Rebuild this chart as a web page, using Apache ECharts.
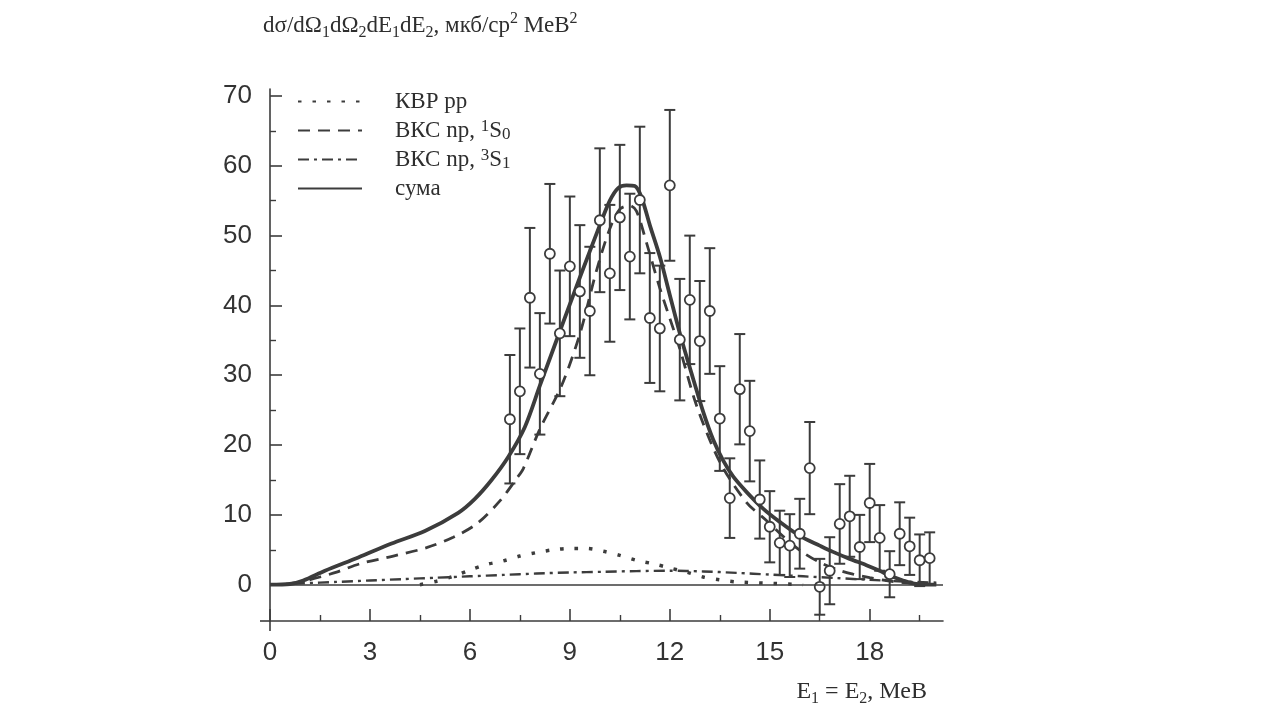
<!DOCTYPE html>
<html>
<head>
<meta charset="utf-8">
<script src="https://cdn.jsdelivr.net/npm/echarts@6/dist/echarts.min.js"></script>
<style>
  html, body { margin: 0; padding: 0; background: #fff; }
  #chart { width: 1284px; height: 714px; }
</style>
</head>
<body>
<div id="chart"></div>
<script>
// експериментальні точки: енергія, переріз, похибка
const energies = [7.2, 7.5, 7.8, 8.1, 8.4, 8.7, 9.0, 9.3, 9.6, 9.9, 10.2, 10.5, 10.8, 11.1, 11.4, 11.7, 12.0, 12.3, 12.6, 12.9, 13.2, 13.5, 13.8, 14.1, 14.4, 14.7, 15.0, 15.3, 15.6, 15.9, 16.2, 16.5, 16.8, 17.1, 17.4, 17.7, 18.0, 18.3, 18.6, 18.9, 19.2, 19.5, 19.8]
const crossSection = [23.7, 27.7, 41.1, 30.2, 47.4, 36.0, 45.6, 42.0, 39.2, 52.2, 44.6, 52.6, 47.0, 55.1, 38.2, 36.7, 57.2, 35.1, 40.8, 34.9, 39.2, 23.8, 12.4, 28.0, 22.0, 12.2, 8.3, 6.0, 5.6, 7.3, 16.7, -0.3, 2.0, 8.7, 9.8, 5.4, 11.7, 6.7, 1.5, 7.3, 5.5, 3.5, 3.8]
const errors = [9.2, 9.0, 10.0, 8.7, 10.0, 9.0, 10.0, 9.5, 9.2, 10.3, 9.8, 10.4, 9.0, 10.5, 9.3, 9.0, 10.8, 8.7, 9.2, 8.6, 9.0, 7.5, 5.7, 7.9, 7.2, 5.6, 5.1, 4.6, 4.5, 5.0, 6.6, 4.0, 4.8, 5.7, 5.8, 4.6, 5.6, 4.7, 3.3, 4.5, 4.1, 3.7, 3.7]

// КВР pp
const kvrE = [4.5, 5.0, 5.5, 6.0, 6.5, 7.0, 7.5, 8.0, 8.5, 9.0, 9.5, 10.0, 10.5, 11.0, 11.5, 12.0, 12.5, 13.0, 13.5, 14.0, 15.0, 16.0]
const kvrY = [0.0, 0.5, 1.2, 2.1, 2.9, 3.4, 4.1, 4.6, 5.0, 5.2, 5.2, 4.8, 4.2, 3.5, 3.0, 2.4, 1.8, 1.1, 0.7, 0.4, 0.2, 0.0]

// ВКС np, 1S0
const s0E = [0, 0.5, 1.0, 1.5, 2.0, 2.7, 3.7, 4.7, 5.5, 6.2, 6.9, 7.4, 7.6, 8.1, 8.75, 9.3, 9.8, 10.2, 10.5, 10.8, 11.0, 11.3, 11.7, 12.3, 12.8, 13.5, 14.3, 14.9, 15.5, 16.0, 16.5, 17.0, 17.5, 18.0, 18.5, 19.0, 20.0]
const s0Y = [0, 0.1, 0.5, 1.1, 1.8, 3.0, 4.1, 5.3, 6.8, 8.7, 12.0, 15.2, 16.6, 22.3, 28.5, 35.9, 45.0, 51.0, 53.8, 54.3, 53.5, 49.0, 42.5, 33.8, 25.7, 17.6, 11.8, 9.2, 6.5, 4.6, 3.2, 2.2, 1.5, 1.0, 0.6, 0.3, 0]

// ВКС np, 3S1
const s1E = [0, 1, 2, 3, 4, 5, 6, 7, 8, 9, 10, 11, 12, 13, 14, 15, 16, 17, 18, 19, 20]
const s1Y = [0, 0.2, 0.4, 0.6, 0.8, 1.0, 1.2, 1.4, 1.6, 1.75, 1.85, 1.95, 2.0, 1.9, 1.7, 1.45, 1.2, 0.95, 0.7, 0.45, 0.3]

// сума
const sumE = [0, 0.6, 1.0, 1.65, 2.65, 3.65, 4.65, 5.65, 6.15, 6.65, 7.15, 7.65, 8.1, 8.7, 9.3, 9.9, 10.2, 10.45, 10.7, 10.95, 11.15, 11.4, 11.7, 12.0, 12.33, 12.7, 13.0, 13.3, 13.6, 13.9, 14.3, 14.8, 15.3, 15.9, 16.5, 16.9, 17.4, 17.9, 18.3, 18.6, 19.0, 19.4, 20.0]
const sumY = [0, 0.1, 0.6, 2.0, 3.9, 5.9, 7.7, 10.3, 12.3, 15.0, 18.3, 22.6, 28.5, 36.3, 44.0, 51.5, 55.0, 56.8, 57.2, 57.1, 55.5, 51.5, 47.0, 41.5, 35.5, 29.5, 24.8, 20.8, 17.8, 15.5, 13.3, 10.9, 9.0, 7.0, 5.6, 4.7, 3.7, 2.8, 2.0, 1.3, 0.6, 0.1, 0]

// підписи осей
const xTickLabels = [0, 3, 6, 9, 12, 15, 18]
const xMinorTicks = [1.5, 4.5, 7.5, 10.5, 13.5, 16.5, 19.5]
const yTickLabels = [0, 10, 20, 30, 40, 50, 60, 70]
const yMinorTicks = [5, 15, 25, 35, 45, 55, 65]

const names = ['КВР рр', 'ВКС np, 1S0', 'ВКС np, 3S1', 'сума']
const legendText = {
  'КВР рр': 'КВР рр',
  'ВКС np, 1S0': 'ВКС np, {p|1}S{b|0}',
  'ВКС np, 3S1': 'ВКС np, {p|3}S{b|1}',
  'сума': 'сума'
}

const ink = '#3c3c3c'
const textInk = '#2e2e2e'
const serif = '"Liberation Serif", "Times New Roman", serif'
const sans = '"Liberation Sans", Arial, sans-serif'
const subSup = (size) => ({
  p: { fontSize: size, lineHeight: 13, verticalAlign: 'top', fontFamily: serif, fontWeight: 'normal', color: textInk },
  b: { fontSize: size, lineHeight: 13, verticalAlign: 'bottom', fontFamily: serif, fontWeight: 'normal', color: textInk }
})
const mainText = (size) => ({ fontSize: size, lineHeight: 30, fontFamily: serif, fontWeight: 'normal', color: textInk })

const zip = (xs, ys) => xs.map((x, i) => [x, ys[i]])

const chart = echarts.init(document.getElementById('chart'))

const minorAxis = (extra) => Object.assign({
  type: 'value',
  axisLine: { show: false, onZero: false },
  axisLabel: { show: false },
  splitLine: { show: false }
}, extra)

const options = {
  backgroundColor: '#fff',
  animation: false,
  title: [
    {
      text: '{t|dσ/dΩ}{b|1}{t|dΩ}{b|2}{t|dE}{b|1}{t|dE}{b|2}{t|, мкб/ср}{p|2}{t| МеВ}{p|2}',
      left: 258,
      top: 6,
      textStyle: { fontWeight: 'normal', rich: Object.assign({ t: mainText(23) }, subSup(16)) }
    },
    {
      text: '{t|E}{b|1}{t| = E}{b|2}{t|, МеВ}',
      right: 352,
      top: 672,
      textStyle: { fontWeight: 'normal', rich: Object.assign({ t: mainText(24) }, subSup(16)) }
    }
  ],
  legend: {
    data: names,
    orient: 'vertical',
    left: 292,
    top: 84,
    itemWidth: 64,
    itemHeight: 14,
    itemGap: 4,
    itemStyle: { opacity: 0 },
    formatter: (name) => legendText[name],
    textStyle: {
      fontFamily: serif,
      fontSize: 23,
      lineHeight: 25,
      color: textInk,
      padding: [0, 0, 0, 28],
      rich: subSup(17)
    }
  },
  grid: {
    left: 270,
    top: 89,
    width: 673,
    height: 532
  },
  xAxis: [
    {
      type: 'value',
      min: 0,
      max: 20.2,
      position: 'bottom',
      axisLine: { onZero: false, lineStyle: { color: ink, width: 1.6 } },
      axisTick: { inside: true, length: 12, customValues: xTickLabels, lineStyle: { color: ink, width: 1.6 } },
      axisLabel: { customValues: xTickLabels, margin: 19, fontSize: 26, fontFamily: sans, color: '#333' },
      splitLine: { show: false }
    },
    minorAxis({
      min: 0,
      max: 20.2,
      position: 'bottom',
      axisTick: { inside: true, length: 6, customValues: xMinorTicks, lineStyle: { color: ink, width: 1.4 } }
    })
  ],
  yAxis: [
    {
      type: 'value',
      min: -5.2,
      max: 71,
      position: 'left',
      axisLine: { show: true, onZero: false, lineStyle: { color: ink, width: 1.6 } },
      axisTick: { inside: true, length: 12, customValues: yTickLabels, lineStyle: { color: ink, width: 1.6 } },
      axisLabel: { customValues: yTickLabels, margin: 18, fontSize: 26, fontFamily: sans, color: '#333' },
      splitLine: { show: false }
    },
    minorAxis({
      min: -5.2,
      max: 71,
      position: 'left',
      axisTick: { inside: true, length: 6, customValues: yMinorTicks, lineStyle: { color: ink, width: 1.4 } }
    })
  ],
  series: [
    {
      name: 'КВР рр',
      type: 'line',
      data: zip(kvrE, kvrY),
      smooth: 0.3,
      symbol: 'none',
      lineStyle: { color: ink, width: 3.5, type: [3.5, 11], cap: 'butt' },
      z: 2
    },
    {
      name: 'ВКС np, 1S0',
      type: 'line',
      data: zip(s0E, s0Y),
      smooth: 0.3,
      symbol: 'none',
      lineStyle: { color: ink, width: 2.8, type: [12, 8] },
      z: 2
    },
    {
      name: 'ВКС np, 3S1',
      type: 'line',
      data: zip(s1E, s1Y),
      smooth: 0.3,
      symbol: 'none',
      lineStyle: { color: ink, width: 2.4, type: [11, 5, 3, 5] },
      z: 2
    },
    {
      name: 'сума',
      type: 'line',
      data: zip(sumE, sumY),
      smooth: 0.3,
      symbol: 'none',
      lineStyle: { color: ink, width: 3.8 },
      markLine: {
        silent: true,
        symbol: 'none',
        label: { show: false },
        lineStyle: { color: ink, width: 1.5, type: 'solid' },
        data: [{ yAxis: 0 }]
      },
      z: 2
    },
    {
      type: 'custom',
      data: energies.map((e, i) => [e, crossSection[i] - errors[i], crossSection[i] + errors[i]]),
      encode: { x: 0, y: [1, 2] },
      renderItem: (params, api) => {
        const x = api.value(0)
        const lo = api.coord([x, api.value(1)])
        const hi = api.coord([x, api.value(2)])
        const w = 5.5
        const style = { stroke: ink, lineWidth: 2 }
        return {
          type: 'group',
          children: [
            { type: 'line', shape: { x1: lo[0], y1: lo[1], x2: hi[0], y2: hi[1] }, style },
            { type: 'line', shape: { x1: lo[0] - w, y1: lo[1], x2: lo[0] + w, y2: lo[1] }, style },
            { type: 'line', shape: { x1: hi[0] - w, y1: hi[1], x2: hi[0] + w, y2: hi[1] }, style }
          ]
        }
      },
      z: 3
    },
    {
      type: 'scatter',
      data: zip(energies, crossSection),
      symbol: 'circle',
      symbolSize: 10,
      itemStyle: { color: '#fff', borderColor: ink, borderWidth: 1.8, opacity: 1 },
      z: 4
    }
  ]
}

chart.setOption(options)

// осі в оригіналі трохи перетинаються в куті
const corner = chart.convertToPixel({ gridIndex: 0 }, [0, -5.2])
chart.setOption({
  graphic: [
    { type: 'line', shape: { x1: corner[0] - 10, y1: corner[1], x2: corner[0], y2: corner[1] }, style: { stroke: ink, lineWidth: 1.6 } },
    { type: 'line', shape: { x1: corner[0], y1: corner[1], x2: corner[0], y2: corner[1] + 10 }, style: { stroke: ink, lineWidth: 1.6 } }
  ]
})
</script>
</body>
</html>
